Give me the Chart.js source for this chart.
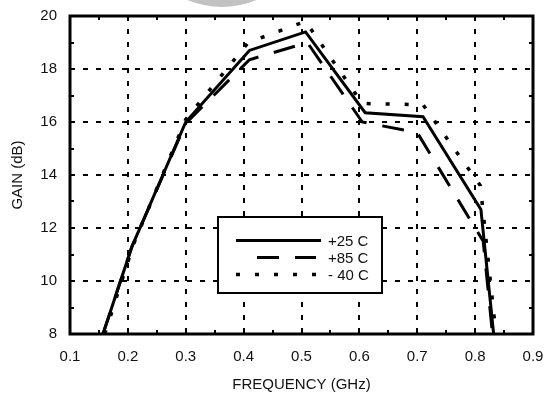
<!DOCTYPE html>
<html>
<head>
<meta charset="utf-8">
<script src="https://cdn.jsdelivr.net/npm/chart.js@4.4.1/dist/chart.umd.min.js"></script>
<style>
  html, body { margin: 0; padding: 0; background: #fff; }
</style>
</head>
<body>
<canvas id="gainChart" width="546" height="394"></canvas>
<script>
// Ganho x frequência nas três temperaturas
const freq25 = [0.157, 0.207, 0.30, 0.41, 0.507, 0.61, 0.71, 0.81, 0.832];
const gain25 = [8.0, 11.3, 16.0, 18.7, 19.4, 16.35, 16.2, 12.7, 8.0];

const freq85 = [0.157, 0.207, 0.30, 0.41, 0.51, 0.605, 0.70, 0.814, 0.83];
const gain85 = [8.0, 11.3, 15.95, 18.35, 19.0, 16.0, 15.6, 11.5, 8.0];

const freqM40 = [0.16, 0.21, 0.30, 0.408, 0.507, 0.605, 0.71, 0.809, 0.836];
const gainM40 = [8.0, 11.4, 16.1, 19.0, 19.8, 16.7, 16.65, 13.6, 8.0];

const seriesNames = ['+25 C', '+85 C', '- 40 C'];

// rótulos dos eixos e marcas menores
const xTicks = [0.1, 0.2, 0.3, 0.4, 0.5, 0.6, 0.7, 0.8, 0.9];
const yTicks = [8, 10, 12, 14, 16, 18, 20];
const xMinor = [0.15, 0.25, 0.35, 0.45, 0.55, 0.65, 0.75, 0.85];
const yMinor = [9, 11, 13, 15, 17, 19];

const FONT = 'Liberation Sans, Arial, Helvetica, sans-serif';

const pontos = (xs, ys) => xs.map((x, i) => ({ x: x, y: ys[i] }));

// grade pontilhada, marcas internas, moldura e legenda dentro do gráfico
const moldura = {
    id: 'moldura',
    beforeDraw(chart) {
        const ctx = chart.ctx;
        ctx.save();
        ctx.fillStyle = '#fff';
        ctx.fillRect(0, 0, chart.width, chart.height);
        // mancha cinza no topo
        ctx.fillStyle = '#c2c2c2';
        ctx.beginPath();
        ctx.arc(222, -80, 87, 0, Math.PI * 2);
        ctx.fill();
        ctx.restore();
    },
    beforeDatasetsDraw(chart) {
        const { ctx, chartArea: a, scales: { x, y } } = chart;
        ctx.save();
        ctx.strokeStyle = '#000';
        ctx.lineWidth = 2;
        ctx.setLineDash([5, 8]);
        xTicks.forEach(v => {
            const px = Math.round(x.getPixelForValue(v));
            if (px <= a.left + 2 || px >= a.right - 2) return;
            ctx.beginPath();
            ctx.moveTo(px, a.top);
            ctx.lineTo(px, a.bottom);
            ctx.stroke();
        });
        yTicks.forEach(v => {
            const py = Math.round(y.getPixelForValue(v));
            if (py <= a.top + 2 || py >= a.bottom - 2) return;
            ctx.beginPath();
            ctx.moveTo(a.left, py);
            ctx.lineTo(a.right, py);
            ctx.stroke();
        });
        ctx.setLineDash([]);
        const t = 4;
        xMinor.forEach(v => {
            const px = Math.round(x.getPixelForValue(v));
            ctx.beginPath();
            ctx.moveTo(px, a.top); ctx.lineTo(px, a.top + t);
            ctx.moveTo(px, a.bottom); ctx.lineTo(px, a.bottom - t);
            ctx.stroke();
        });
        yMinor.forEach(v => {
            const py = Math.round(y.getPixelForValue(v));
            ctx.beginPath();
            ctx.moveTo(a.left, py); ctx.lineTo(a.left + t, py);
            ctx.moveTo(a.right, py); ctx.lineTo(a.right - t, py);
            ctx.stroke();
        });
        ctx.restore();
    },
    afterDatasetsDraw(chart) {
        const { ctx, chartArea: a } = chart;
        ctx.save();
        ctx.strokeStyle = '#000';
        ctx.lineWidth = 3;
        ctx.strokeRect(a.left, a.top, a.right - a.left, a.bottom - a.top);

        // legenda
        const bx = 218, by = 217, bw = 164, bh = 76;
        ctx.fillStyle = '#fff';
        ctx.fillRect(bx, by, bw, bh);
        ctx.lineWidth = 2;
        ctx.strokeRect(bx, by, bw, bh);
        const linhas = [[236, 321], [257, 316], [236, 316]];
        chart.data.datasets.forEach((ds, i) => {
            const ly = 240.5 + i * 17;
            ctx.lineWidth = ds.borderWidth;
            ctx.setLineDash(ds.borderDash || []);
            ctx.beginPath();
            ctx.moveTo(linhas[i][0], ly);
            ctx.lineTo(linhas[i][1], ly);
            ctx.stroke();
            ctx.setLineDash([]);
            ctx.fillStyle = '#111';
            ctx.font = '15px ' + FONT;
            ctx.textBaseline = 'middle';
            ctx.fillText(ds.label, 328, ly + 1);
        });
        ctx.restore();
    }
};

new Chart(document.getElementById('gainChart'), {
    type: 'line',
    data: {
        datasets: [{
            label: seriesNames[0],
            data: pontos(freq25, gain25),
            borderColor: '#000',
            borderWidth: 3,
            pointRadius: 0,
            tension: 0
        }, {
            label: seriesNames[1],
            data: pontos(freq85, gain85),
            borderColor: '#000',
            borderWidth: 3,
            borderDash: [22, 16],
            pointRadius: 0,
            tension: 0
        }, {
            label: seriesNames[2],
            data: pontos(freqM40, gainM40),
            borderColor: '#000',
            borderWidth: 3.5,
            borderDash: [4, 15],
            pointRadius: 0,
            tension: 0
        }]
    },
    options: {
        responsive: false,
        animation: false,
        devicePixelRatio: 1,
        layout: { padding: { top: 16, right: 13, left: 0, bottom: 0 } },
        plugins: {
            legend: { display: false },
            tooltip: { enabled: false }
        },
        scales: {
            x: {
                type: 'linear',
                min: 0.1,
                max: 0.9,
                afterFit(s) {
                    s.height = 60;
                    s.paddingLeft = 0;
                    s.paddingRight = 0;
                },
                afterBuildTicks(s) { s.ticks = xTicks.map(v => ({ value: v })); },
                grid: { display: false, drawTicks: false },
                border: { display: false },
                ticks: {
                    color: '#111',
                    font: { family: FONT, size: 15 },
                    padding: 14,
                    maxRotation: 0,
                    autoSkip: false,
                    callback: v => v.toFixed(1)
                },
                title: {
                    display: true,
                    text: 'FREQUENCY (GHz)',
                    color: '#111',
                    font: { family: FONT, size: 15 },
                    padding: { top: 0, bottom: 0 }
                }
            },
            y: {
                min: 8,
                max: 20,
                afterFit(s) {
                    s.width = 70;
                    s.paddingTop = 0;
                    s.paddingBottom = 0;
                },
                afterBuildTicks(s) { s.ticks = yTicks.map(v => ({ value: v })); },
                grid: { display: false, drawTicks: false },
                border: { display: false },
                ticks: {
                    color: '#111',
                    font: { family: FONT, size: 15 },
                    padding: 13,
                    autoSkip: false
                },
                title: {
                    display: true,
                    text: 'GAIN (dB)',
                    color: '#111',
                    font: { family: FONT, size: 15 },
                    padding: { top: 9, bottom: 0 }
                }
            }
        }
    },
    plugins: [moldura]
});
</script>
</body>
</html>
